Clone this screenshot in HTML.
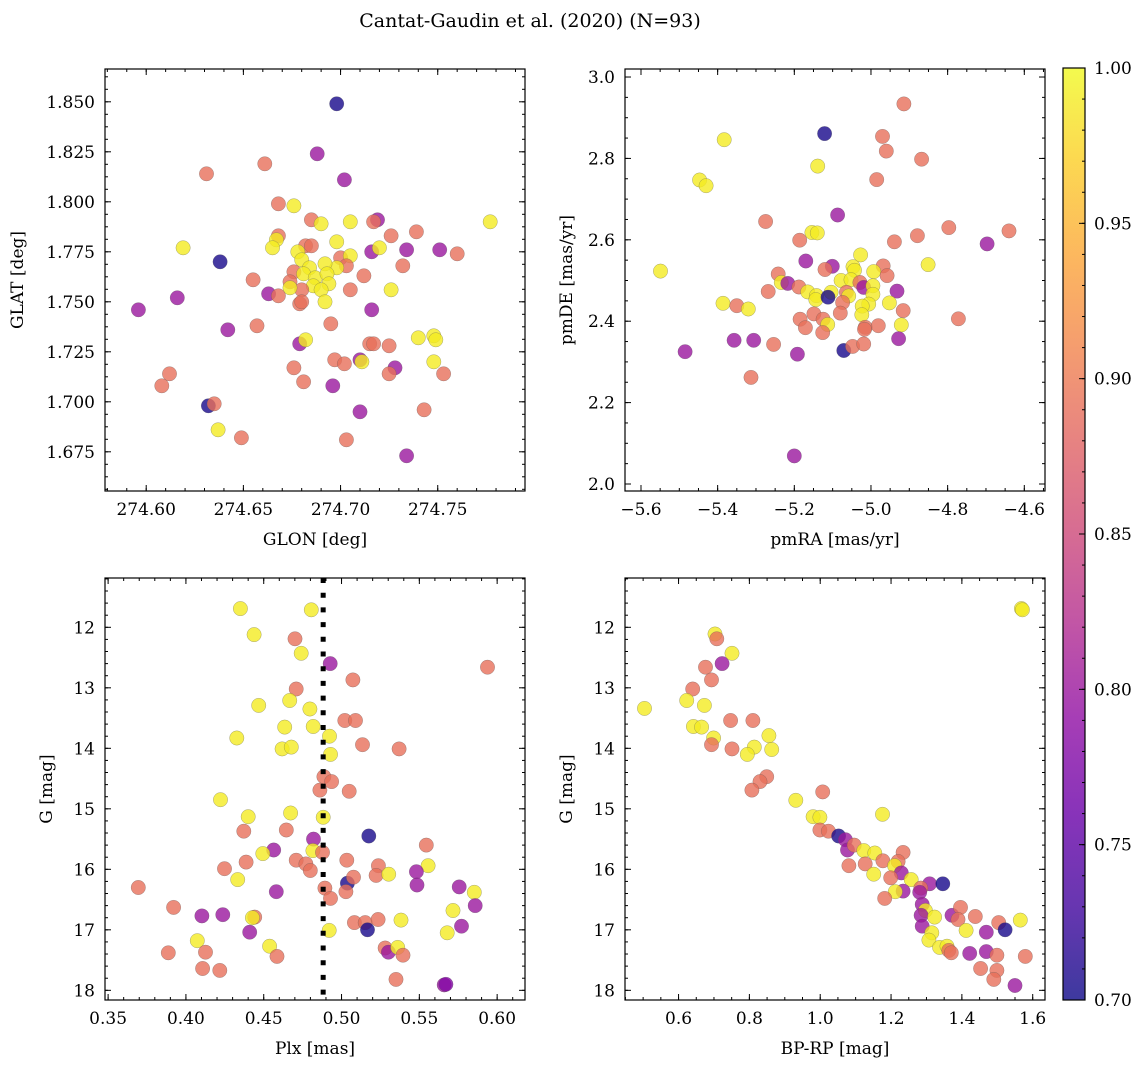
<!DOCTYPE html>
<html><head><meta charset="utf-8">
<style>
html,body{margin:0;padding:0;background:#fff;}
svg{display:block;font-family:"DejaVu Serif","Liberation Serif",serif;}
</style></head>
<body>
<svg id="fig" width="1148" height="1068" viewBox="0 0 1148 1068" xmlns="http://www.w3.org/2000/svg">
<defs>
<linearGradient id="plasma" x1="0" y1="1" x2="0" y2="0">
<stop offset="0" stop-color="#0d0887"/><stop offset="0.1" stop-color="#41049d"/><stop offset="0.2" stop-color="#6a00a8"/><stop offset="0.3" stop-color="#8f0da4"/><stop offset="0.4" stop-color="#b12a90"/><stop offset="0.5" stop-color="#cc4778"/><stop offset="0.6" stop-color="#e16462"/><stop offset="0.7" stop-color="#f2844b"/><stop offset="0.8" stop-color="#fca636"/><stop offset="0.9" stop-color="#fcce25"/><stop offset="1" stop-color="#f0f921"/>
</linearGradient>
</defs>
<text x="530" y="27" text-anchor="middle" font-size="19">Cantat-Gaudin et al. (2020) (N=93)</text>
</svg>
<script>
// ---- Panel 1: GLON / GLAT ----
const p1_glon=[274.698,274.688,274.661,274.631,274.702,274.668,274.676,274.685,274.690,274.705,274.719,274.717,274.777,274.726,274.739,274.619,274.668,274.667,274.665,274.682,274.685,274.698,274.716,274.720,274.734,274.751,274.760,274.638,274.678,274.680,274.700,274.705,274.703,274.698,274.692,274.684,274.676,274.674,274.681,274.687,274.693,274.694,274.686,274.690,274.680,274.674,274.655,274.712,274.732,274.705,274.726,274.663,274.668,274.679,274.680,274.692,274.616,274.596,274.716,274.642,274.657,274.695,274.679,274.682,274.715,274.717,274.725,274.740,274.748,274.749,274.748,274.697,274.702,274.710,274.711,274.728,274.725,274.753,274.612,274.608,274.676,274.681,274.696,274.632,274.635,274.710,274.743,274.637,274.649,274.703,274.734];
const p1_glat=[1.849,1.824,1.819,1.814,1.811,1.799,1.798,1.791,1.789,1.790,1.791,1.790,1.790,1.783,1.785,1.777,1.783,1.781,1.777,1.778,1.778,1.780,1.775,1.777,1.776,1.776,1.774,1.770,1.775,1.771,1.772,1.773,1.768,1.767,1.769,1.767,1.765,1.760,1.764,1.762,1.764,1.759,1.758,1.756,1.756,1.757,1.761,1.763,1.768,1.756,1.756,1.754,1.753,1.749,1.750,1.750,1.752,1.746,1.746,1.736,1.738,1.739,1.729,1.731,1.729,1.729,1.728,1.732,1.733,1.731,1.720,1.721,1.719,1.721,1.720,1.717,1.714,1.714,1.714,1.708,1.717,1.710,1.708,1.698,1.699,1.695,1.696,1.686,1.682,1.681,1.673];
const p1_prob=[0.705,0.8,0.89,0.89,0.8,0.89,0.99,0.89,0.99,0.99,0.8,0.89,0.99,0.89,0.89,0.99,0.89,0.99,0.99,0.89,0.89,0.99,0.8,0.99,0.8,0.8,0.89,0.705,0.99,0.99,0.89,0.99,0.89,0.99,0.99,0.99,0.89,0.89,0.99,0.99,0.99,0.99,0.99,0.99,0.89,0.99,0.89,0.89,0.89,0.89,0.99,0.8,0.89,0.89,0.89,0.99,0.8,0.8,0.8,0.8,0.89,0.89,0.8,0.99,0.89,0.89,0.89,0.99,0.99,0.99,0.99,0.89,0.89,0.8,0.99,0.8,0.89,0.89,0.89,0.89,0.89,0.89,0.8,0.705,0.89,0.8,0.89,0.99,0.89,0.89,0.8];
// ---- Panel 2: pmRA / pmDE ----
const p2_pmra=[-4.914,-5.121,-5.383,-4.970,-4.960,-4.868,-5.139,-5.447,-5.430,-4.985,-5.087,-5.275,-5.154,-5.140,-5.186,-4.797,-4.640,-4.879,-4.939,-4.697,-5.027,-5.170,-4.851,-5.549,-5.101,-5.120,-5.047,-5.043,-4.968,-5.242,-4.993,-4.958,-5.234,-5.217,-5.188,-5.078,-5.052,-5.029,-5.019,-4.995,-4.995,-5.268,-5.165,-5.104,-5.142,-5.144,-5.112,-5.064,-5.058,-5.074,-4.932,-5.386,-5.350,-5.320,-4.952,-5.006,-5.023,-5.024,-5.080,-5.149,-4.916,-5.185,-5.171,-5.125,-5.113,-5.126,-5.015,-5.017,-4.981,-4.921,-4.772,-4.928,-5.357,-5.306,-5.254,-5.485,-5.192,-5.071,-5.048,-5.019,-5.313,-5.200];
const p2_pmde=[2.934,2.861,2.846,2.854,2.818,2.798,2.781,2.747,2.733,2.748,2.661,2.645,2.618,2.617,2.599,2.630,2.622,2.610,2.595,2.590,2.563,2.548,2.539,2.523,2.535,2.527,2.534,2.525,2.536,2.516,2.522,2.512,2.495,2.493,2.484,2.500,2.502,2.495,2.483,2.487,2.466,2.473,2.472,2.471,2.463,2.453,2.459,2.471,2.462,2.446,2.474,2.444,2.438,2.430,2.445,2.442,2.437,2.416,2.420,2.418,2.426,2.405,2.384,2.405,2.392,2.372,2.385,2.380,2.389,2.391,2.406,2.357,2.353,2.353,2.343,2.325,2.319,2.328,2.338,2.344,2.262,2.069];
const p2_prob=[0.89,0.705,0.99,0.89,0.89,0.89,0.99,0.99,0.99,0.89,0.8,0.89,0.99,0.99,0.89,0.89,0.89,0.89,0.89,0.8,0.99,0.8,0.99,0.99,0.8,0.89,0.99,0.99,0.89,0.89,0.99,0.89,0.99,0.8,0.89,0.99,0.99,0.89,0.8,0.99,0.99,0.89,0.99,0.99,0.99,0.99,0.705,0.89,0.99,0.89,0.8,0.99,0.89,0.99,0.99,0.99,0.99,0.99,0.89,0.89,0.89,0.89,0.89,0.89,0.99,0.89,0.89,0.89,0.89,0.99,0.89,0.8,0.8,0.8,0.89,0.8,0.8,0.705,0.89,0.89,0.89,0.8];
// ---- Panel 3: Plx / G ----
const p3_plx=[0.4350,0.4806,0.4438,0.4701,0.4741,0.4927,0.5938,0.5073,0.4709,0.4468,0.4667,0.4797,0.5021,0.5090,0.4635,0.4818,0.4923,0.4327,0.4618,0.4677,0.5135,0.5370,0.4929,0.4887,0.4936,0.4861,0.5049,0.4222,0.4400,0.4673,0.4882,0.4372,0.4645,0.4820,0.5175,0.4564,0.4494,0.4816,0.4878,0.5545,0.4387,0.4709,0.4771,0.4799,0.5034,0.4248,0.4333,0.5237,0.5222,0.5303,0.5556,0.5481,0.5038,0.5077,0.3694,0.5485,0.4893,0.4581,0.5028,0.4929,0.5756,0.5853,0.3921,0.4103,0.4237,0.4442,0.4427,0.5859,0.5716,0.5083,0.5152,0.5235,0.5382,0.5167,0.4921,0.4410,0.5771,0.5679,0.4073,0.4538,0.3887,0.4126,0.4585,0.5280,0.5301,0.5361,0.5395,0.4107,0.4218,0.5350,0.5660,0.5671];
const p3_g=[11.69,11.71,12.12,12.19,12.43,12.60,12.66,12.87,13.02,13.29,13.21,13.35,13.54,13.54,13.65,13.64,13.80,13.83,14.01,13.98,13.94,14.01,14.10,14.47,14.55,14.69,14.71,14.85,15.13,15.07,15.14,15.37,15.35,15.50,15.45,15.68,15.74,15.69,15.72,15.60,15.88,15.85,15.91,16.02,15.85,15.99,16.17,15.94,16.10,16.08,15.94,16.04,16.23,16.13,16.30,16.26,16.31,16.37,16.37,16.48,16.29,16.38,16.63,16.77,16.75,16.79,16.80,16.60,16.68,16.88,16.88,16.83,16.84,17.00,17.01,17.04,16.94,17.05,17.18,17.27,17.38,17.37,17.44,17.30,17.37,17.29,17.42,17.64,17.67,17.82,17.91,17.90];
const p3_prob=[0.99,0.99,0.99,0.89,0.99,0.8,0.89,0.89,0.89,0.99,0.99,0.99,0.89,0.89,0.99,0.99,0.99,0.99,0.99,0.99,0.89,0.89,0.99,0.89,0.89,0.89,0.89,0.99,0.99,0.99,0.99,0.89,0.89,0.8,0.705,0.8,0.99,0.99,0.89,0.89,0.89,0.89,0.89,0.89,0.89,0.89,0.99,0.89,0.89,0.99,0.99,0.8,0.705,0.89,0.89,0.8,0.89,0.8,0.89,0.89,0.8,0.99,0.89,0.8,0.8,0.89,0.99,0.8,0.99,0.89,0.89,0.89,0.99,0.705,0.99,0.8,0.8,0.99,0.99,0.99,0.89,0.89,0.89,0.89,0.8,0.99,0.89,0.89,0.89,0.89,0.8,0.78];
const p3_cut=[0.4882];
// ---- Panel 4: BP-RP / G ----
const p4_bprp=[1.568,1.571,0.703,0.708,0.751,0.723,0.676,0.693,0.640,0.623,0.673,0.504,0.747,0.810,0.642,0.665,0.855,0.699,0.693,0.751,0.814,0.794,0.863,0.849,0.830,0.807,1.007,0.931,0.980,0.999,1.176,0.999,1.023,1.052,1.071,1.077,1.096,1.123,1.154,1.234,1.081,1.127,1.177,1.220,1.210,1.151,1.229,1.199,1.257,1.309,1.346,1.284,1.234,1.212,1.281,1.182,1.288,1.297,1.285,1.323,1.372,1.396,1.389,1.438,1.288,1.315,1.412,1.469,1.504,1.522,1.565,1.307,1.337,1.358,1.363,1.370,1.422,1.469,1.499,1.579,1.453,1.499,1.490,1.550];
const p4_g=[11.69,11.71,12.11,12.19,12.43,12.60,12.66,12.87,13.02,13.21,13.29,13.34,13.54,13.54,13.64,13.65,13.79,13.83,13.94,14.01,13.98,14.10,14.02,14.47,14.55,14.69,14.72,14.86,15.13,15.14,15.09,15.35,15.37,15.45,15.51,15.68,15.60,15.69,15.73,15.72,15.94,15.91,15.86,15.87,15.94,16.08,16.06,16.14,16.17,16.24,16.24,16.31,16.36,16.37,16.38,16.48,16.58,16.68,16.76,16.79,16.76,16.63,16.83,16.78,16.94,17.05,17.01,17.04,16.88,17.00,16.84,17.17,17.29,17.27,17.34,17.38,17.39,17.36,17.42,17.44,17.64,17.67,17.82,17.92];
const p4_prob=[0.99,0.99,0.99,0.89,0.99,0.8,0.89,0.89,0.89,0.99,0.99,0.99,0.89,0.89,0.99,0.99,0.99,0.99,0.89,0.89,0.99,0.99,0.99,0.89,0.89,0.89,0.89,0.99,0.99,0.99,0.99,0.89,0.89,0.705,0.8,0.8,0.89,0.99,0.99,0.89,0.89,0.89,0.89,0.89,0.99,0.99,0.8,0.89,0.99,0.8,0.705,0.89,0.8,0.99,0.8,0.89,0.8,0.99,0.8,0.99,0.8,0.89,0.89,0.89,0.8,0.99,0.99,0.8,0.89,0.705,0.99,0.99,0.99,0.99,0.89,0.89,0.8,0.8,0.89,0.89,0.89,0.89,0.89,0.8];
// ---- Tick labels ----
const p1_xticks=[274.60,274.65,274.70,274.75];
const p1_yticks=[1.675,1.700,1.725,1.750,1.775,1.800,1.825,1.850];
const p2_xticks=[-5.6,-5.4,-5.2,-5.0,-4.8,-4.6];
const p2_yticks=[2.0,2.2,2.4,2.6,2.8,3.0];
const p3_xticks=[0.35,0.40,0.45,0.50,0.55,0.60];
const g_yticks=[12,13,14,15,16,17,18];
const p4_xticks=[0.6,0.8,1.0,1.2,1.4,1.6];
const cb_ticks=[0.70,0.75,0.80,0.85,0.90,0.95,1.00];

const NS="http://www.w3.org/2000/svg";
const svg=document.getElementById('fig');
function mk(tag,attrs,parent){const e=document.createElementNS(NS,tag);for(const k in attrs)e.setAttribute(k,attrs[k]);(parent||svg).appendChild(e);return e;}
const stops=[[13,8,135],[65,4,157],[106,0,168],[143,13,164],[177,42,144],[204,71,120],[225,100,98],[242,132,75],[252,166,54],[252,206,37],[240,249,33]];
function plasma(p){let t=(p-0.7)/0.3;t=Math.max(0,Math.min(1,t))*10;const i=Math.min(9,Math.floor(t)),f=t-i;const a=stops[i],b=stops[i+1];return 'rgb('+a.map((v,k)=>Math.round(v+(b[k]-v)*f)).join(',')+')';}

function panel(cfg){
  const {L,T,R,B,xmin,xmax,ymin,ymax,invert}=cfg;
  const sx=v=>L+(v-xmin)/(xmax-xmin)*(R-L);
  const sy=v=>invert? T+(v-ymin)/(ymax-ymin)*(B-T) : B-(v-ymin)/(ymax-ymin)*(B-T);
  const g=mk('g',{});
  
  
  const pts=mk('g',{},g);
  
  
  for(let i=0;i<cfg.xs.length;i++){
    const c=mk('circle',{cx:sx(cfg.xs[i]).toFixed(1),cy:sy(cfg.ys[i]).toFixed(1),r:7.2,fill:plasma(cfg.ps[i]),'fill-opacity':0.8,stroke:'#555','stroke-opacity':0.5,'stroke-width':0.5},pts);
    
    
  }
  if(cfg.vline){for(const v of cfg.vline){const l=mk('line',{x1:sx(v),x2:sx(v),y1:T,y2:B,stroke:'#000','stroke-width':5,'stroke-dasharray':'5 9.7'},g);
    
    }}
  const tk=mk('g',{stroke:'#000','stroke-width':1},g);
  const xStepMinor=cfg.xminor, yStepMinor=cfg.yminor;
  for(let v=Math.ceil(xmin/xStepMinor)*xStepMinor;v<=xmax;v+=xStepMinor){const x=sx(v);mk('line',{x1:x,x2:x,y1:B,y2:B-3},tk);mk('line',{x1:x,x2:x,y1:T,y2:T+3},tk);}
  for(let v=Math.ceil(ymin/yStepMinor)*yStepMinor;v<=ymax;v+=yStepMinor){const y=sy(v);mk('line',{x1:L,x2:L+3,y1:y,y2:y},tk);mk('line',{x1:R,x2:R-3,y1:y,y2:y},tk);}
  for(const v of cfg.xt){const x=sx(v);mk('line',{x1:x,x2:x,y1:B,y2:B-6},tk);mk('line',{x1:x,x2:x,y1:T,y2:T+6},tk);
    const t=mk('text',{x:x,y:B+24,'text-anchor':'middle','font-size':17},g);t.textContent=v.toFixed(cfg.xd).replace('-','\u2212');
    
    }
  for(const v of cfg.yt){const y=sy(v);mk('line',{x1:L,x2:L+6,y1:y,y2:y},tk);mk('line',{x1:R,x2:R-6,y1:y,y2:y},tk);
    const t=mk('text',{x:L-10,y:y+6,'text-anchor':'end','font-size':17},g);t.textContent=v.toFixed(cfg.yd);
    
    }
  const fr=mk('rect',{x:L,y:T,width:R-L,height:B-T,fill:'none',stroke:'#000','stroke-width':1.2},g);
  
  
  const xl=mk('text',{x:(L+R)/2,y:B+54,'text-anchor':'middle','font-size':17},g);xl.textContent=cfg.xlabel;
  
  
  const yx=cfg.ylx, yc=(T+B)/2;
  const yl=mk('text',{x:yx,y:yc,'text-anchor':'middle','font-size':17,transform:'rotate(-90 '+yx+' '+yc+')'},g);yl.textContent=cfg.ylabel;
  
  
}

panel({name:'glon-glat-panel',L:105,T:69,R:525,B:491,xmin:274.5788,xmax:274.7949,ymin:1.6554,ymax:1.8664,xs:p1_glon,ys:p1_glat,ps:p1_prob,xt:p1_xticks,yt:p1_yticks,xd:2,yd:3,xminor:0.01,yminor:0.00625,xlabel:'GLON [deg]',ylabel:'GLAT [deg]',ylx:23});
panel({name:'pm-panel',L:625,T:69,R:1045,B:491,xmin:-5.6417,xmax:-4.546,ymin:1.9828,ymax:3.0197,xs:p2_pmra,ys:p2_pmde,ps:p2_prob,xt:p2_xticks,yt:p2_yticks,xd:1,yd:1,xminor:0.05,yminor:0.05,xlabel:'pmRA [mas/yr]',ylabel:'pmDE [mas/yr]',ylx:572});
panel({name:'plx-g-panel',L:105,T:578,R:525,B:1000,xmin:0.348,xmax:0.6179,ymin:11.185,ymax:18.16,invert:true,xs:p3_plx,ys:p3_g,ps:p3_prob,xt:p3_xticks,yt:g_yticks,xd:2,yd:0,xminor:0.01,yminor:0.2,xlabel:'Plx [mas]',ylabel:'G [mag]',ylx:52,vline:p3_cut});
panel({name:'cmd-panel',L:625,T:578,R:1045,B:1000,xmin:0.4488,xmax:1.6347,ymin:11.185,ymax:18.16,invert:true,xs:p4_bprp,ys:p4_g,ps:p4_prob,xt:p4_xticks,yt:g_yticks,xd:1,yd:0,xminor:0.05,yminor:0.2,xlabel:'BP-RP [mag]',ylabel:'G [mag]',ylx:572});

(function(){
  const L=1063,R=1085,T=68,B=1000;
  const g=mk('g',{});
  
  
  mk('rect',{x:L,y:T,width:R-L,height:B-T,fill:'url(#plasma)','fill-opacity':0.8},g);
  const sy=v=>B-(v-0.7)/0.3*(B-T);
  for(let v=0.70;v<=1.0001;v+=0.01){const y=sy(v);mk('line',{x1:R,x2:R-3,y1:y,y2:y,stroke:'#000'},g);}
  for(const v of cb_ticks){const y=sy(v);mk('line',{x1:R,x2:R-6,y1:y,y2:y,stroke:'#000'},g);
    const t=mk('text',{x:R+9,y:y+6,'font-size':17},g);t.textContent=v.toFixed(2);
    
    }
  mk('rect',{x:L,y:T,width:R-L,height:B-T,fill:'none',stroke:'#000','stroke-width':1.2},g);
})();
</script>
</body></html>
